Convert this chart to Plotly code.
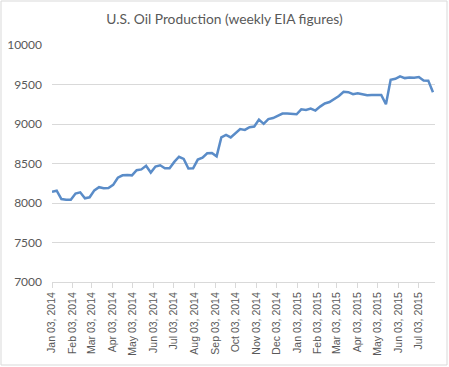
import pandas as pd
import plotly.graph_objects as go

start_date = "2014-01-03"
production = [
    8143, 8156, 8050, 8040, 8042, 8120, 8135, 8060, 8072, 8160,
    8200, 8188, 8190, 8230, 8320, 8350, 8355, 8350, 8415, 8425,
    8470, 8385, 8462, 8478, 8440, 8440, 8520, 8585, 8558, 8436,
    8440, 8550, 8575, 8630, 8632, 8590, 8830, 8862, 8830, 8880,
    8935, 8925, 8960, 8968, 9055, 9002, 9062, 9075, 9105, 9132,
    9132, 9125, 9123, 9185, 9178, 9195, 9170, 9220, 9260, 9278,
    9315, 9355, 9408, 9403, 9377, 9390, 9377, 9364, 9368, 9365,
    9368, 9250, 9560, 9572, 9602, 9581, 9590, 9585, 9595, 9550,
    9549, 9403,
]
weeks = pd.date_range(start_date, periods=len(production), freq="7D")
title_text = "U.S. Oil Production (weekly EIA figures)"

fig = go.Figure()
fig.add_trace(go.Scatter(
    x=weeks, y=production, mode="lines",
    line=dict(color="#5a8cc8", width=2.5),
    hoverinfo="x+y",
))

L, R, T, B = 52, 14, 45, 85
W, H = 449, 367
pw, ph = W - L - R, H - T - B

fig.update_layout(
    width=W, height=H,
    margin=dict(l=L, r=R, t=T, b=B),
    paper_bgcolor="white", plot_bgcolor="white",
    showlegend=False,
    title=dict(text=title_text, x=0.5, xref="container", y=1 - 19 / H,
               yref="container", yanchor="middle", xanchor="center",
               font=dict(family="Lato, Open Sans, sans-serif", size=13.8, color="#595959")),
    font=dict(family="Liberation Sans, Arial, sans-serif", color="#595959"),
    xaxis=dict(
        type="date",
        range=["2014-01-03", "2015-07-27"],
        tick0="2014-01-03", dtick="M1",
        tickformat="%b %d, %Y",
        tickangle=-90,
        tickfont=dict(size=10.5, color="#595959"),
        showgrid=False,
        showline=True, linecolor="#d9d9d9", linewidth=1,
        ticks="outside", ticklen=5, tickcolor="#d9d9d9",
        zeroline=False,
        automargin=False,
    ),
    yaxis=dict(
        range=[7000, 10000], dtick=500, tick0=7000,
        tickformat="d",
        showgrid=True, gridcolor="#d9d9d9", gridwidth=1,
        showline=False, zeroline=False,
        tickfont=dict(family="Lato, Liberation Sans, sans-serif", size=12, color="#595959"),
        ticklabelstandoff=9,
        automargin=False,
    ),
    shapes=[dict(
        type="rect", xref="paper", yref="paper",
        x0=(1 - L) / pw, x1=(W - 2 - L) / pw,
        y0=-(H - 2 - (H - B)) / ph, y1=(H - B - 1) / ph,
        line=dict(color="#d9d9d9", width=1), fillcolor="rgba(0,0,0,0)",
        layer="below",
    )],
)

fig.write_html("out.html", config={"displayModeBar": False},
               post_script="document.body.style.margin='0';")
